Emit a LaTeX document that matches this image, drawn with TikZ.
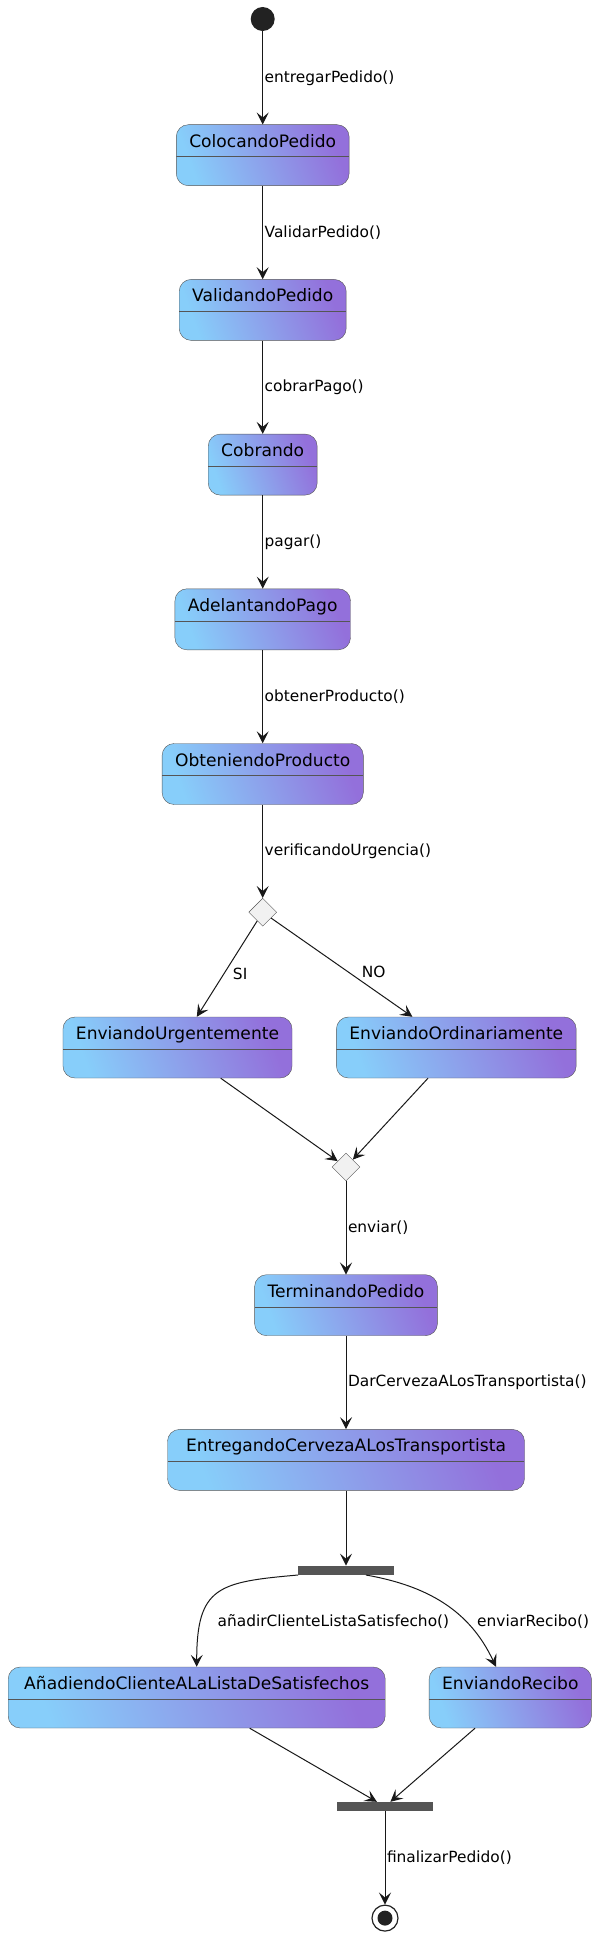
\documentclass[tikz,border=0pt]{standalone}
\usepackage{fontspec}
\setmainfont{DejaVu Sans}
\usetikzlibrary{arrows.meta,positioning,shapes.geometric}
\definecolor{skyfill}{HTML}{87CEFA}
\definecolor{purplefill}{HTML}{9370DB}
\definecolor{edgeline}{HTML}{181818}
\definecolor{borderline}{HTML}{555555}
\definecolor{choicefill}{HTML}{F1F1F1}
\definecolor{dotfill}{HTML}{222222}

\begin{document}
\begin{tikzpicture}[x=1pt,y=-1pt,
  node distance=93.3pt,
  state/.style={draw=borderline,rounded corners=12pt,
    top color=purplefill,bottom color=skyfill,shading angle=-70,
    font=\fontsize{17.1}{20}\selectfont,inner xsep=13pt,inner ysep=0pt,
    text height=22.5pt,text depth=38.5pt,
    path picture={\draw[borderline]
      ([yshift=-32pt]path picture bounding box.north west) --
      ([yshift=-32pt]path picture bounding box.north east);}},
  choice/.style={diamond,draw=borderline,fill=choicefill,
    minimum size=28pt,inner sep=0pt},
  bar/.style={fill=borderline,minimum width=96pt,minimum height=9pt,inner sep=0pt},
  startdot/.style={circle,fill=dotfill,minimum size=24pt,inner sep=0pt},
  enddot/.style={circle,draw=dotfill,line width=1.2pt,minimum size=26pt,inner sep=0pt,
    path picture={\fill[dotfill] (path picture bounding box.center) circle (7.5pt);}},
  arr/.style={-{Stealth[length=12pt,width=12pt,inset=5pt]},line width=1pt,draw=edgeline},
  lbl/.style={font=\fontsize{15.4}{18}\selectfont,anchor=west,inner sep=1.5pt}
]
\useasboundingbox (0,0) rectangle (600,1937);
% main column
\node[startdot] (start) at (262.7,19) {};
\node[state,below=of start] (colocando) {ColocandoPedido};
\node[state,below=of colocando] (validando) {ValidandoPedido};
\node[state,below=of validando] (cobrando) {Cobrando};
\node[state,below=of cobrando] (adelantando) {AdelantandoPago};
\node[state,below=of adelantando] (obteniendo) {ObteniendoProducto};
\node[choice,below=of obteniendo] (urgencia) {};
% branches
\node[state] (urgente) at (177.5,1047.5) {EnviandoUrgentemente};
\node[state] (ordinario) at (456.3,1047.5) {EnviandoOrdinariamente};
\node[choice] (envio) at (346,1167) {};
\node[state,below=of envio] (terminando) {TerminandoPedido};
\node[state,below=of terminando,minimum width=357pt] (entregando) {EntregandoCervezaALosTransportista};
\node[bar,below=75pt of entregando] (fork) {};
\node[state,minimum width=377pt] (anadiendo) at (196.7,1697.5) {AñadiendoClienteALaListaDeSatisfechos};
\node[state] (recibo) at (510.3,1697.5) {EnviandoRecibo};
\node[bar] (join) at (385,1806.5) {};
\node[enddot,below=of join] (fin) {};

\draw[arr] (start) -- (colocando) node[lbl,midway] {entregarPedido()};
\draw[arr] (colocando) -- (validando) node[lbl,midway] {ValidarPedido()};
\draw[arr] (validando) -- (cobrando) node[lbl,midway] {cobrarPago()};
\draw[arr] (cobrando) -- (adelantando) node[lbl,midway] {pagar()};
\draw[arr] (adelantando) -- (obteniendo) node[lbl,midway] {obtenerProducto()};
\draw[arr] (obteniendo) -- (urgencia) node[lbl,midway] {verificandoUrgencia()};
\draw[arr] (urgencia) -- (urgente) node[lbl,pos=0.55,xshift=7pt] {SI};
\draw[arr] (urgencia) -- (ordinario) node[lbl,pos=0.55,xshift=11pt] {NO};
\draw[arr] (urgente) -- (envio);
\draw[arr] (ordinario) -- (envio);
\draw[arr] (envio) -- (terminando) node[lbl,midway] {enviar()};
\draw[arr] (terminando) -- (entregando) node[lbl,midway] {DarCervezaALosTransportista()};
\draw[arr] (entregando) -- (fork);
\draw[arr] ([xshift=-48pt]fork.south) to[out=185,in=90,looseness=1.5]
  node[lbl,pos=0.76,xshift=14.7pt] {añadirClienteListaSatisfecho()} (anadiendo);
\draw[arr] ([xshift=20pt]fork.south) to[out=-10,in=115]
  node[lbl,pos=0.68,xshift=9.5pt] {enviarRecibo()} (recibo);
\draw[arr] (anadiendo) -- (join);
\draw[arr] (recibo) -- (join);
\draw[arr] (join) -- (fin) node[lbl,midway] {finalizarPedido()};
\end{tikzpicture}
\end{document}
